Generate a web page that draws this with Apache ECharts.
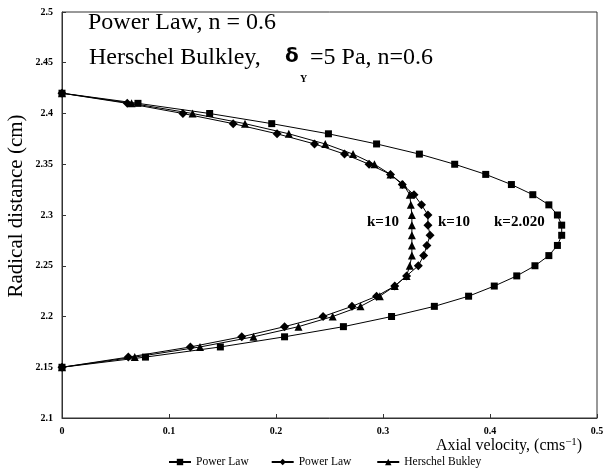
<!DOCTYPE html>
<html><head><meta charset="utf-8">
<script src="https://cdn.jsdelivr.net/npm/echarts@6/dist/echarts.min.js"></script>
<style>html,body{margin:0;padding:0;background:#fff}#c{width:606px;height:473px}</style>
</head><body><div id="c"></div>
<script>
// Radial positions (cm) shared by all three profiles
const radius = [2.42,2.41,2.40,2.39,2.38,2.37,2.36,2.35,2.34,2.33,2.32,2.31,2.30,2.29,2.28,2.27,2.26,2.25,2.24,2.23,2.22,2.21,2.20,2.19,2.18,2.17,2.16,2.15];
// Power law, k = 2.020 (squares)
const velPowerK2 = [0,0.071,0.138,0.196,0.249,0.294,0.334,0.367,0.396,0.420,0.440,0.455,0.463,0.467,0.467,0.463,0.455,0.442,0.425,0.404,0.380,0.348,0.308,0.263,0.208,0.148,0.078,0];
// Power law, k = 10 (diamonds)
const velPowerK10 = [0,0.061,0.113,0.160,0.201,0.236,0.264,0.287,0.307,0.318,0.329,0.336,0.342,0.342,0.344,0.341,0.338,0.333,0.322,0.311,0.294,0.271,0.244,0.208,0.168,0.120,0.062,0];
// Herschel Bulkley, k = 10 (triangles)
const velHB = [0,0.065,0.122,0.171,0.212,0.246,0.272,0.292,0.307,0.319,0.325,0.326,0.327,0.327,0.327,0.327,0.327,0.325,0.322,0.311,0.297,0.279,0.253,0.221,0.179,0.129,0.068,0];
const legendNames = ['Power Law','Power Law ','Herschel Bukley'];
const xTicks = {min:0,max:0.5,interval:0.1};
const yTicks = {min:2.1,max:2.5,interval:0.05};

const serif = '"Liberation Serif", "Times New Roman", serif';
const pairs = v => v.map((x,i)=>[x,radius[i]]);
function ser(name, vals, sym, size){
  return {name, type:'line', data:pairs(vals), symbol:sym, symbolSize:size,
    lineStyle:{color:'#000',width:1}, itemStyle:{color:'#000'}, showSymbol:true, animation:false};
}
const chart = echarts.init(document.getElementById('c'));
chart.setOption({
  animation:false,
  grid:{left:62, top:12, right:9, bottom:55, containLabel:false, outerBoundsMode:'none',
    show:true, borderColor:'#333', borderWidth:1},
  xAxis:{type:'value', min:xTicks.min, max:xTicks.max, interval:xTicks.interval,
    axisLine:{lineStyle:{color:'#333'}}, axisTick:{inside:true,length:4,lineStyle:{color:'#333'}},
    splitLine:{show:false},
    axisLabel:{fontFamily:serif, fontSize:10, fontWeight:'bold', color:'#000', margin:8}},
  yAxis:{type:'value', min:yTicks.min, max:yTicks.max, interval:yTicks.interval,
    axisLine:{lineStyle:{color:'#333'}}, axisTick:{inside:true,length:4,lineStyle:{color:'#333'}},
    splitLine:{show:false},
    axisLabel:{fontFamily:serif, fontSize:10, fontWeight:'bold', color:'#000', margin:9}},
  legend:{bottom:0, left:163, itemGap:22, itemWidth:22, itemHeight:8,
    data:legendNames, textStyle:{fontFamily:serif, fontSize:11.5, color:'#000'}},
  series:[ser(legendNames[0], velPowerK2, 'rect', 7), ser(legendNames[1], velPowerK10, 'diamond', 9), ser(legendNames[2], velHB, 'triangle', 8)],
  graphic:[
    {type:'text', x:16, y:206, rotation:Math.PI/2,
      style:{text:'Radical distance (cm)', font:'21px '+serif, fill:'#000', align:'center', verticalAlign:'middle'}},
    {type:'text', left:436, top:437,
      style:{text:'Axial velocity, (cms{s|−1})', font:'16px '+serif, fill:'#000',
        rich:{s:{font:'11px '+serif, fill:'#000', verticalAlign:'top', padding:[0,0,7,0]}}}},
    {type:'text', left:88, top:11, style:{text:'Power Law, n = 0.6', font:'24px '+serif, fill:'#000'}},
    {type:'text', left:89, top:46, style:{text:'Herschel Bulkley,', font:'24px '+serif, fill:'#000'}},
    {type:'text', left:285, top:47, style:{text:'δ', font:'bold 20px "DejaVu Sans", sans-serif', fill:'#000'}},
    {type:'text', left:300, top:74, style:{text:'Y', font:'bold 10px '+serif, fill:'#000'}},
    {type:'text', left:310, top:46, style:{text:'=5 Pa, n=0.6', font:'24px '+serif, fill:'#000'}},
    {type:'text', left:367, top:215, style:{text:'k=10', font:'bold 15px '+serif, fill:'#000'}},
    {type:'text', left:438, top:215, style:{text:'k=10', font:'bold 15px '+serif, fill:'#000'}},
    {type:'text', left:494, top:215, style:{text:'k=2.020', font:'bold 15px '+serif, fill:'#000'}}
  ]
});
</script></body></html>
